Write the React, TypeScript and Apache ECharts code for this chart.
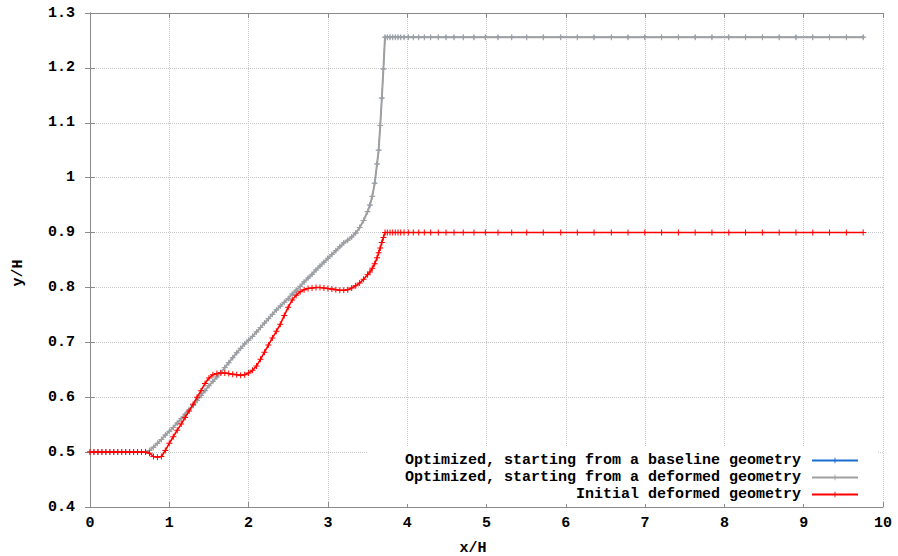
import React, { useEffect, useRef } from 'react';
import * as echarts from 'echarts';

// x/H stations along the wall (shared by all geometries)
const xWall = [
  0, 0.05, 0.1, 0.15, 0.2, 0.25, 0.3, 0.35, 0.4, 0.45, 0.5, 0.55, 0.6, 0.65, 0.7,
  0.75, 0.8, 0.85, 0.9, 0.95, 1.0, 1.05, 1.1, 1.15, 1.2, 1.25, 1.3, 1.35, 1.4, 1.45,
  1.5, 1.55, 1.6, 1.65, 1.7, 1.75, 1.8, 1.85, 1.9, 1.95, 2.0, 2.05, 2.1, 2.15, 2.2,
  2.25, 2.3, 2.35, 2.4, 2.45, 2.5, 2.55, 2.6, 2.65, 2.7, 2.75, 2.8, 2.85, 2.9, 2.95,
  3.0, 3.05, 3.1, 3.15, 3.2, 3.25, 3.3, 3.35, 3.4, 3.45, 3.5, 3.53, 3.56, 3.59, 3.62,
  3.64, 3.66, 3.68, 3.7, 3.72,
];

// Initial deformed geometry, y/H
const yInitialWall = [
  0.5, 0.5, 0.5, 0.5, 0.5, 0.5, 0.5, 0.5, 0.5, 0.5, 0.5, 0.5, 0.5, 0.5, 0.5,
  0.498, 0.492, 0.4905, 0.492, 0.503, 0.516, 0.528, 0.54, 0.551, 0.563, 0.575, 0.587, 0.6, 0.612, 0.625,
  0.635, 0.641, 0.643, 0.644, 0.644, 0.643, 0.642, 0.641, 0.64, 0.641, 0.644, 0.649, 0.657, 0.669, 0.682,
  0.695, 0.708, 0.72, 0.733, 0.749, 0.764, 0.777, 0.786, 0.792, 0.796, 0.798, 0.799, 0.8, 0.8, 0.799,
  0.798, 0.797, 0.796, 0.795, 0.795, 0.796, 0.799, 0.803, 0.808, 0.815, 0.823, 0.828, 0.835, 0.843, 0.854,
  0.863, 0.872, 0.882, 0.891, 0.9,
];

// Optimized from the deformed geometry, y/H
const yOptDeformedWall = [
  0.5, 0.5, 0.5, 0.5, 0.5, 0.5, 0.5, 0.5, 0.5, 0.5, 0.5, 0.5, 0.5, 0.5, 0.5,
  0.503, 0.509, 0.516, 0.523, 0.531, 0.538, 0.545, 0.553, 0.561, 0.569, 0.577, 0.585, 0.594, 0.603, 0.612,
  0.621, 0.629, 0.637, 0.645, 0.654, 0.663, 0.672, 0.681, 0.689, 0.697, 0.704, 0.711, 0.719, 0.727, 0.735,
  0.743, 0.751, 0.759, 0.766, 0.773, 0.78, 0.788, 0.795, 0.802, 0.81, 0.817, 0.824, 0.832, 0.839, 0.846,
  0.853, 0.86, 0.867, 0.874, 0.881, 0.886, 0.892, 0.899, 0.909, 0.922, 0.938, 0.95, 0.966, 0.99, 1.025,
  1.05, 1.095, 1.145, 1.198, 1.256,
];

// Downstream stations (stretched grid)
const xTail = [
  3.749, 3.783, 3.817, 3.85, 3.884, 3.918, 3.96, 4.014, 4.077, 4.145, 4.216, 4.296, 4.392, 4.489,
  4.59, 4.707, 4.842, 4.985, 5.145, 5.318, 5.507, 5.716, 5.936, 6.145, 6.356, 6.574, 6.784,
  6.996, 7.208, 7.42, 7.631, 7.843, 8.055, 8.267, 8.479, 8.691, 8.902, 9.114, 9.326, 9.538, 9.75,
];
const yInitialTail = [
  0.9, 0.9, 0.9, 0.9, 0.9, 0.9, 0.9, 0.9, 0.9, 0.9, 0.9, 0.9, 0.9, 0.9,
  0.9, 0.9, 0.9, 0.9, 0.9, 0.9, 0.9, 0.9, 0.9, 0.9, 0.9, 0.9, 0.9,
  0.9, 0.9, 0.9, 0.9, 0.9, 0.9, 0.9, 0.9, 0.9, 0.9, 0.9, 0.9, 0.9, 0.9,
];
const yOptDeformedTail = [
  1.256, 1.256, 1.256, 1.256, 1.256, 1.256, 1.256, 1.256, 1.256, 1.256, 1.256, 1.256, 1.256, 1.256,
  1.256, 1.256, 1.256, 1.256, 1.256, 1.256, 1.256, 1.256, 1.256, 1.256, 1.256, 1.256, 1.256,
  1.256, 1.256, 1.256, 1.256, 1.256, 1.256, 1.256, 1.256, 1.256, 1.256, 1.256, 1.256, 1.256, 1.256,
];

const seriesNames = [
  'Optimized, starting from a baseline geometry',
  'Optimized, starting from a deformed geometry',
  'Initial deformed geometry',
];
const seriesColors = ['#1a6fce', '#a0a0a0', '#ff0000'];

const FONT = '"Liberation Mono", "DejaVu Sans Mono", monospace';
const PLUS =
  'path://M-0.5,-3L0.5,-3L0.5,-0.5L3,-0.5L3,0.5L0.5,0.5L0.5,3L-0.5,3L-0.5,0.5L-3,0.5L-3,-0.5L-0.5,-0.5Z';
const AXIS_GRAY = '#8a8a8a';

function pairs(xs: number[], ys: number[]) {
  return xs.map((x, i) => [x, ys[i]]);
}

export default function App() {
  const ref = useRef<HTMLDivElement>(null);

  useEffect(() => {
    if (!ref.current) return;
    const chart = echarts.init(ref.current, null, { renderer: 'svg' });

    const xAll = [...xWall, ...xTail];
    const yOpt = [...yOptDeformedWall, ...yOptDeformedTail];
    const yInit = [...yInitialWall, ...yInitialTail];
    // Baseline-start optimum coincides with the deformed-start optimum (hidden underneath)
    const datasets = [pairs(xAll, yOpt), pairs(xAll, yOpt), pairs(xAll, yInit)];
    const widths = [1, 2, 1.6];
    const symSizes = [4.5, 6, 6];

    const labelStyle = { fontFamily: FONT, fontWeight: 'bold' as const, fontSize: 15, color: '#000' };
    const lineCommon = { show: true, lineStyle: { color: AXIS_GRAY, width: 1 } };
    const tickCommon = { show: true, inside: true, length: 5, lineStyle: { color: AXIS_GRAY, width: 1 } };

    chart.setOption({
      animation: false,
      backgroundColor: '#ffffff',
      grid: { left: 90, right: 15, top: 13, bottom: 49, outerBoundsMode: 'none', containLabel: false },
      xAxis: [
        {
          type: 'value', min: 0, max: 10, interval: 1, position: 'bottom',
          name: 'x/H', nameLocation: 'middle', nameGap: 34,
          nameTextStyle: { ...labelStyle, padding: [0, 27, 0, 0] },
          axisLine: lineCommon, axisTick: tickCommon,
          axisLabel: { ...labelStyle, margin: 9 },
          splitLine: { show: true, lineStyle: { color: '#c8c8c8', type: 'dotted', width: 1 } },
        },
        {
          type: 'value', min: 0, max: 10, interval: 1, position: 'top',
          axisLine: lineCommon, axisTick: tickCommon,
          axisLabel: { show: false }, splitLine: { show: false },
        },
      ],
      yAxis: [
        {
          type: 'value', min: 0.4, max: 1.3, interval: 0.1, position: 'left',
          name: 'y/H', nameLocation: 'middle', nameGap: 64,
          nameTextStyle: { ...labelStyle, padding: [0, 26, 0, 0] },
          axisLine: lineCommon, axisTick: tickCommon,
          axisLabel: { ...labelStyle, margin: 15 },
          splitLine: { show: true, lineStyle: { color: '#c8c8c8', type: 'dotted', width: 1 } },
        },
        {
          type: 'value', min: 0.4, max: 1.3, interval: 0.1, position: 'right',
          axisLine: lineCommon, axisTick: tickCommon,
          axisLabel: { show: false }, splitLine: { show: false },
        },
      ],
      legend: {
        orient: 'vertical', align: 'right', right: 20, top: 447,
        padding: [6, 19, 2, 37], itemGap: 2, itemWidth: 46, itemHeight: 7,
        backgroundColor: '#ffffff',
        textStyle: { ...labelStyle, padding: [0, 6, 0, 0] },
        data: seriesNames,
      },
      series: seriesNames.map((name, i) => ({
        name, type: 'line', xAxisIndex: 0, yAxisIndex: 0,
        data: datasets[i],
        color: seriesColors[i],
        lineStyle: { color: seriesColors[i], width: widths[i] },
        itemStyle: { color: seriesColors[i] },
        symbol: PLUS, symbolSize: symSizes[i], showSymbol: true, showAllSymbol: true,
        z: 2 + i,
      })),
    });

    return () => chart.dispose();
  }, []);

  return (
    <div
      ref={ref}
      style={{ position: 'fixed', left: 0, top: 0, width: 898, height: 556, background: '#fff' }}
    />
  );
}
